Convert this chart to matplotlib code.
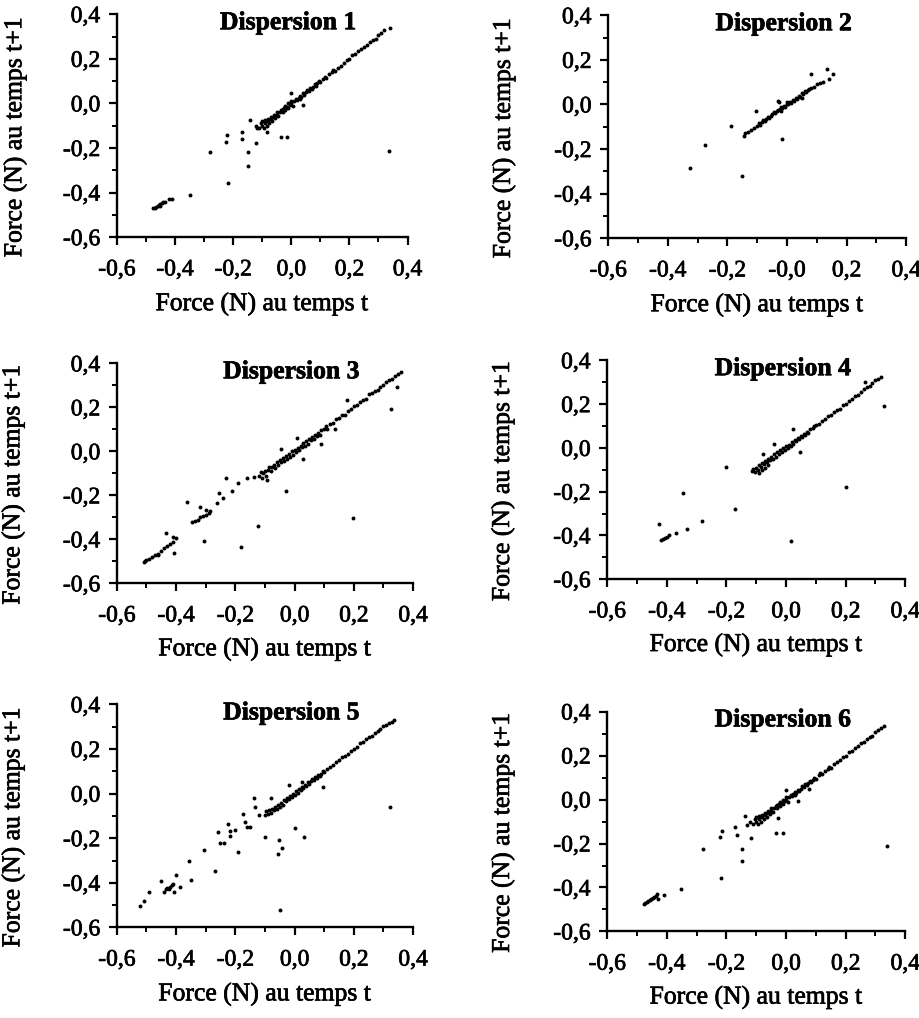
import matplotlib
matplotlib.use('Agg')
import matplotlib.pyplot as plt
import matplotlib.patheffects as pe

plt.rcParams['font.family'] = ['Liberation Serif', 'DejaVu Serif']

# Dispersion 1
d1_x = [-0.475, -0.47, -0.465, -0.46, -0.455, -0.45, -0.445, -0.44, -0.435, -0.45, -0.42, -0.41, -0.35,
        -0.28, -0.216, -0.22, -0.225, -0.17, -0.168, -0.15, -0.15, -0.143, -0.123, -0.117, -0.034, -0.014, 0.337,
        0.0, 0.039, -0.083,
        -0.12, -0.11, -0.105, -0.10, -0.10, -0.095, -0.09, -0.09, -0.085, -0.08, -0.08, -0.075, -0.07, -0.07,
        -0.065, -0.06, -0.06, -0.055, -0.05, -0.05, -0.045, -0.04, -0.035, -0.03, -0.03, -0.025, -0.02, -0.02,
        -0.015, -0.01, -0.01, -0.005, 0.0, 0.0, 0.005, 0.01, 0.015, 0.02, 0.025, 0.03, 0.03, 0.035, 0.04, 0.045,
        0.05, 0.055, 0.06, 0.065, 0.07, 0.075, 0.08, 0.085, 0.09, 0.095, 0.10, 0.11, 0.115, 0.12, 0.13, 0.14,
        0.145, 0.15, 0.16, 0.17, 0.18, 0.19, 0.20, 0.21, 0.22, 0.23, 0.24, 0.25, 0.26, 0.27, 0.28, 0.29, 0.30,
        0.31, 0.32, 0.34]
d1_y = [-0.47, -0.468, -0.463, -0.46, -0.455, -0.45, -0.445, -0.44, -0.44, -0.46, -0.43, -0.43, -0.41,
        -0.22, -0.355, -0.14, -0.175, -0.127, -0.16, -0.22, -0.28, -0.075, -0.176, -0.112, -0.149, -0.149, -0.212,
        0.046, -0.005, -0.127,
        -0.10, -0.11, -0.09, -0.10, -0.08, -0.11, -0.09, -0.075, -0.10, -0.08, -0.07, -0.09, -0.07, -0.06,
        -0.08, -0.06, -0.05, -0.065, -0.05, -0.04, -0.055, -0.04, -0.03, -0.04, -0.025, -0.02, -0.03, -0.01,
        -0.015, 0.0, -0.02, -0.005, 0.0, 0.01, -0.01, 0.01, 0.02, 0.015, 0.025, 0.035, 0.02, 0.03, 0.045, 0.04,
        0.05, 0.06, 0.055, 0.07, 0.065, 0.075, 0.085, 0.08, 0.09, 0.10, 0.095, 0.11, 0.12, 0.115, 0.13, 0.14,
        0.15, 0.145, 0.16, 0.17, 0.18, 0.195, 0.20, 0.215, 0.22, 0.235, 0.245, 0.255, 0.26, 0.275, 0.285, 0.29, 0.305,
        0.315, 0.33, 0.34]

# Dispersion 2
d2_x = [-0.324, -0.274, -0.188, -0.151, -0.103, -0.017, 0.082, 0.134, 0.156, 0.14, -0.028,
        -0.145, -0.14, -0.13, -0.12, -0.11, -0.10, -0.095, -0.09, -0.085, -0.08, -0.075, -0.07, -0.065, -0.06,
        -0.055, -0.05, -0.045, -0.04, -0.035, -0.03, -0.025, -0.02, -0.02, -0.015, -0.01, -0.005, 0.0, 0.0,
        0.005, 0.01, 0.015, 0.02, 0.025, 0.03, 0.035, 0.04, 0.045, 0.05, 0.055, 0.06, 0.065, 0.07, 0.075, 0.08,
        0.09, 0.10, 0.11, 0.12, -0.03, 0.05]
d2_y = [-0.283, -0.184, -0.098, -0.323, -0.030, -0.157, 0.138, 0.157, 0.135, 0.115, 0.012,
        -0.14, -0.13, -0.125, -0.115, -0.105, -0.095, -0.085, -0.09, -0.08, -0.07, -0.075, -0.065, -0.055, -0.06,
        -0.05, -0.045, -0.035, -0.04, -0.03, -0.025, -0.02, -0.03, -0.01, -0.015, -0.005, -0.01, 0.0, 0.01,
        0.0, 0.01, 0.005, 0.02, 0.015, 0.03, 0.025, 0.04, 0.035, 0.05, 0.045, 0.06, 0.055, 0.065, 0.07, 0.075,
        0.08, 0.09, 0.095, 0.10, 0.015, 0.03]

# Dispersion 3
d3_x = [-0.51, -0.505, -0.50, -0.49, -0.48, -0.47, -0.46, -0.45, -0.44, -0.43, -0.42, -0.41, -0.40,
        -0.434, -0.406, -0.41, -0.46, -0.363,
        -0.345, -0.335, -0.325, -0.32, -0.31, -0.30, -0.29, -0.285, -0.32, -0.30,
        -0.307, -0.262, -0.256, -0.24, -0.23, -0.21, -0.192, -0.16, -0.138,
        -0.18, -0.123, -0.028, 0.196, 0.327, 0.347, -0.093, 0.029, 0.088, 0.007, -0.047, 0.178, 0.136,
        -0.12, -0.115, -0.11, -0.105, -0.10, -0.095, -0.09, -0.085, -0.08, -0.075, -0.07, -0.065, -0.06, -0.055,
        -0.05, -0.045, -0.04, -0.035, -0.03, -0.025, -0.02, -0.015, -0.01, -0.005, 0.0, 0.005, 0.01, 0.015, 0.02,
        0.025, 0.03, 0.035, 0.04, 0.045, 0.05, 0.055, 0.06, 0.065, 0.07, 0.075, 0.08, 0.085, 0.09, 0.10, 0.105,
        0.11, 0.12, 0.13, 0.14, 0.15, 0.16, 0.17, 0.18, 0.19, 0.20, 0.21, 0.22, 0.23, 0.24, 0.25, 0.26, 0.27,
        0.28, 0.29, 0.30, 0.31, 0.32, 0.33, 0.34, 0.35, 0.36]
d3_y = [-0.505, -0.50, -0.495, -0.49, -0.48, -0.47, -0.465, -0.455, -0.44, -0.43, -0.42, -0.41, -0.395,
        -0.371, -0.462, -0.39, -0.47, -0.231,
        -0.32, -0.315, -0.31, -0.30, -0.295, -0.29, -0.28, -0.27, -0.255, -0.265,
        -0.409, -0.236, -0.19, -0.21, -0.122, -0.18, -0.145, -0.12, -0.115,
        -0.436, -0.338, -0.182, -0.302, 0.195, 0.294, -0.13, -0.036, 0.032, 0.059, 0.01, 0.233, 0.10,
        -0.11, -0.095, -0.12, -0.10, -0.09, -0.11, -0.085, -0.07, -0.09, -0.07, -0.06, -0.075, -0.05, -0.06,
        -0.04, -0.05, -0.03, -0.045, -0.02, -0.035, -0.01, -0.025, 0.0, -0.015, 0.005, -0.005, 0.015, 0.005, 0.025,
        0.02, 0.04, 0.025, 0.045, 0.035, 0.055, 0.05, 0.065, 0.055, 0.075, 0.07, 0.085, 0.075, 0.095, 0.10, 0.115,
        0.10, 0.125, 0.13, 0.145, 0.15, 0.165, 0.165, 0.185, 0.195, 0.205, 0.21, 0.225, 0.235, 0.24, 0.26, 0.265, 0.275,
        0.28, 0.295, 0.30, 0.315, 0.325, 0.33, 0.345, 0.35, 0.36]

# Dispersion 4
d4_x = [-0.427, -0.421, -0.414, -0.407, -0.40, -0.393, -0.368, -0.332, -0.345, -0.282, -0.20, -0.172,
        0.017, 0.202, 0.327, 0.025, 0.047, -0.078, -0.039, 0.266,
        -0.115, -0.11, -0.105, -0.10, -0.095, -0.09, -0.09, -0.085, -0.08, -0.08, -0.075, -0.07, -0.07, -0.065,
        -0.06, -0.06, -0.055, -0.05, -0.045, -0.04, -0.035, -0.03, -0.025, -0.02, -0.015, -0.01, -0.005, 0.0,
        0.005, 0.01, 0.015, 0.02, 0.025, 0.03, 0.035, 0.04, 0.045, 0.05, 0.055, 0.06, 0.065, 0.07, 0.075, 0.08,
        0.09, 0.095, 0.10, 0.11, 0.12, 0.13, 0.14, 0.15, 0.16, 0.17, 0.18, 0.19, 0.20, 0.21, 0.22, 0.23, 0.24,
        0.25, 0.26, 0.27, 0.28, 0.29, 0.30, 0.31, 0.32]
d4_y = [-0.348, -0.42, -0.415, -0.41, -0.405, -0.40, -0.39, -0.37, -0.204, -0.335, -0.086, -0.28,
        -0.426, -0.177, 0.193, 0.088, -0.018, -0.026, 0.02, 0.303,
        -0.105, -0.095, -0.11, -0.09, -0.10, -0.08, -0.115, -0.085, -0.07, -0.10, -0.075, -0.06, -0.09, -0.065,
        -0.05, -0.08, -0.055, -0.04, -0.05, -0.03, -0.04, -0.02, -0.03, -0.01, -0.02, 0.0, -0.01, 0.01,
        0.0, 0.015, 0.01, 0.025, 0.02, 0.035, 0.03, 0.045, 0.04, 0.055, 0.05, 0.065, 0.06, 0.075, 0.07, 0.085,
        0.09, 0.10, 0.105, 0.11, 0.125, 0.13, 0.145, 0.15, 0.165, 0.175, 0.18, 0.195, 0.20, 0.215, 0.225, 0.235, 0.24,
        0.255, 0.27, 0.28, 0.285, 0.295, 0.31, 0.315, 0.325]

# Dispersion 5
d5_x = [-0.521, -0.508, -0.492, -0.45, -0.44, -0.435, -0.43, -0.425, -0.42, -0.415, -0.41, -0.408, -0.40,
        -0.386, -0.356, -0.349, -0.305, -0.27, -0.26, -0.251, -0.237, -0.224, -0.217, -0.217, -0.20, -0.19,
        -0.174, -0.166, -0.16, -0.152, -0.137, -0.132, -0.12, -0.10, -0.079, -0.053, -0.055, -0.042, -0.05,
        0.003, 0.032, 0.097, 0.322, -0.019, 0.026,
        -0.10, -0.095, -0.09, -0.085, -0.08, -0.075, -0.07, -0.065, -0.06, -0.055, -0.05, -0.045, -0.04, -0.035,
        -0.03, -0.025, -0.02, -0.015, -0.01, -0.005, 0.0, 0.005, 0.01, 0.015, 0.02, 0.025, 0.03, 0.035, 0.04,
        0.045, 0.05, 0.055, 0.06, 0.065, 0.07, 0.075, 0.08, 0.085, 0.09, 0.095, 0.10, 0.11, 0.12, 0.13, 0.14,
        0.15, 0.16, 0.17, 0.18, 0.19, 0.20, 0.21, 0.22, 0.23, 0.24, 0.25, 0.26, 0.27, 0.28, 0.29, 0.30, 0.31,
        0.32, 0.33, 0.335]
d5_y = [-0.502, -0.48, -0.442, -0.394, -0.44, -0.43, -0.425, -0.43, -0.42, -0.41, -0.405, -0.44, -0.365,
        -0.42, -0.302, -0.386, -0.251, -0.347, -0.174, -0.221, -0.221, -0.137, -0.167, -0.191, -0.165, -0.264,
        -0.09, -0.128, -0.15, -0.15, -0.02, -0.06, -0.098, -0.195, -0.02, -0.21, -0.271, -0.244, -0.52,
        -0.153, -0.195, 0.03, -0.06, 0.038, 0.053,
        -0.095, -0.08, -0.09, -0.075, -0.085, -0.07, -0.075, -0.06, -0.07, -0.05, -0.06, -0.04, -0.05, -0.03,
        -0.035, -0.02, -0.025, -0.01, -0.015, 0.0, -0.005, 0.01, 0.005, 0.02, 0.015, 0.03, 0.025, 0.04, 0.035,
        0.05, 0.045, 0.055, 0.065, 0.06, 0.075, 0.07, 0.085, 0.08, 0.09, 0.10, 0.095, 0.11, 0.12, 0.13, 0.14,
        0.15, 0.165, 0.17, 0.18, 0.19, 0.20, 0.21, 0.225, 0.23, 0.245, 0.255, 0.26, 0.27, 0.28, 0.29, 0.305, 0.31,
        0.315, 0.32, 0.33]

# Dispersion 6
d6_x = [-0.477, -0.472, -0.467, -0.462, -0.457, -0.452, -0.447, -0.442, -0.437, -0.433, -0.43, -0.41, -0.352,
        -0.279, -0.218, -0.222, -0.214, -0.17, -0.164, -0.147, -0.149, -0.139, -0.117, -0.131, -0.034, -0.009,
        -0.026, 0.337, 0.039, 0.0, 0.078,
        -0.12, -0.11, -0.105, -0.10, -0.10, -0.095, -0.09, -0.09, -0.085, -0.08, -0.08, -0.075, -0.07, -0.07,
        -0.065, -0.06, -0.06, -0.055, -0.05, -0.05, -0.045, -0.04, -0.035, -0.03, -0.03, -0.025, -0.02, -0.02,
        -0.015, -0.01, -0.01, -0.005, 0.0, 0.0, 0.005, 0.01, 0.015, 0.02, 0.025, 0.03, 0.03, 0.035, 0.04, 0.045,
        0.05, 0.055, 0.06, 0.065, 0.07, 0.075, 0.08, 0.085, 0.09, 0.095, 0.10, 0.11, 0.115, 0.12, 0.13, 0.14,
        0.145, 0.15, 0.16, 0.17, 0.18, 0.19, 0.20, 0.21, 0.22, 0.23, 0.24, 0.25, 0.26, 0.27, 0.28, 0.29, 0.30,
        0.31, 0.32, 0.33]
d6_y = [-0.475, -0.47, -0.466, -0.462, -0.457, -0.452, -0.447, -0.443, -0.437, -0.43, -0.453, -0.433, -0.405,
        -0.223, -0.357, -0.171, -0.143, -0.124, -0.162, -0.223, -0.281, -0.076, -0.175, -0.114, -0.152, -0.152,
        -0.084, -0.212, -0.008, 0.043, 0.046,
        -0.10, -0.11, -0.09, -0.10, -0.08, -0.11, -0.09, -0.075, -0.10, -0.08, -0.07, -0.09, -0.07, -0.06,
        -0.08, -0.06, -0.05, -0.065, -0.05, -0.04, -0.055, -0.04, -0.03, -0.04, -0.025, -0.02, -0.03, -0.01,
        -0.015, 0.0, -0.02, -0.005, 0.0, 0.01, -0.01, 0.01, 0.02, 0.015, 0.025, 0.035, 0.02, 0.03, 0.045, 0.04,
        0.05, 0.06, 0.055, 0.07, 0.065, 0.075, 0.085, 0.08, 0.09, 0.10, 0.095, 0.11, 0.12, 0.115, 0.13, 0.14,
        0.15, 0.145, 0.16, 0.17, 0.18, 0.195, 0.20, 0.215, 0.22, 0.235, 0.245, 0.255, 0.26, 0.275, 0.285, 0.29, 0.305,
        0.315, 0.325, 0.335]

titles = ['Dispersion 1', 'Dispersion 2', 'Dispersion 3', 'Dispersion 4', 'Dispersion 5', 'Dispersion 6']
xs = [d1_x, d2_x, d3_x, d4_x, d5_x, d6_x]
ys = [d1_y, d2_y, d3_y, d4_y, d5_y, d6_y]

ticks = [-0.6, -0.4, -0.2, 0.0, 0.2, 0.4]
minor = [-0.5, -0.3, -0.1, 0.1, 0.3]
tick_labels = ['-0,6', '-0,4', '-0,2', '0,0', '0,2', '0,4']
tick_labels2 = ['-0,6', '-0,4', '-0,2', '-0,0', '0,2', '0,4']

# position des axes (gauche, bas, largeur, hauteur) en fraction de la figure
boxes = [[0.127, 0.767, 0.316, 0.219],
         [0.661, 0.766, 0.324, 0.219],
         [0.127, 0.427, 0.322, 0.216],
         [0.660, 0.431, 0.324, 0.215],
         [0.127, 0.089, 0.322, 0.219],
         [0.660, 0.085, 0.324, 0.216]]

# trait un peu plus gras, comme sur le document scanne
gras = [pe.withStroke(linewidth=0.5, foreground='k')]

fig = plt.figure(figsize=(9.2, 10.18), dpi=100)

for i in range(6):
    ax = fig.add_axes(boxes[i])
    ax.scatter(xs[i], ys[i], s=8, color='k', linewidths=0)
    ax.set_xlim(-0.6, 0.4)
    ax.set_ylim(-0.6, 0.4)
    ax.spines['top'].set_visible(False)
    ax.spines['right'].set_visible(False)
    ax.spines['left'].set_linewidth(1.7)
    ax.spines['bottom'].set_linewidth(1.7)
    ax.set_xticks(ticks)
    ax.set_xticks(minor, minor=True)
    ax.set_yticks(ticks)
    ax.set_yticks(minor, minor=True)
    if i == 1:
        ax.set_xticklabels(tick_labels2)
    else:
        ax.set_xticklabels(tick_labels)
    ax.set_yticklabels(tick_labels)
    ax.tick_params(which='major', direction='out', length=6, width=1.6, labelsize=17)
    ax.tick_params(which='minor', direction='out', length=3.5, width=1.4)
    ax.tick_params(axis='x', which='major', pad=10)
    ax.tick_params(axis='y', which='major', pad=6)
    for lab in ax.get_xticklabels() + ax.get_yticklabels():
        lab.set_path_effects(gras)
    ax.text(0.59, 0.962, titles[i], transform=ax.transAxes, ha='center', va='center',
            fontsize=18.5, fontweight='bold', path_effects=gras)
    ax.text(0.5, -0.30, 'Force (N) au temps t', transform=ax.transAxes, ha='center', va='center',
            fontsize=18.5, path_effects=gras)
    ax.text(-0.35, 0.45, 'Force (N) au temps t+1', transform=ax.transAxes, ha='center', va='center',
            rotation=90, fontsize=18.5, path_effects=gras)

fig.savefig('out.png', dpi=100)
